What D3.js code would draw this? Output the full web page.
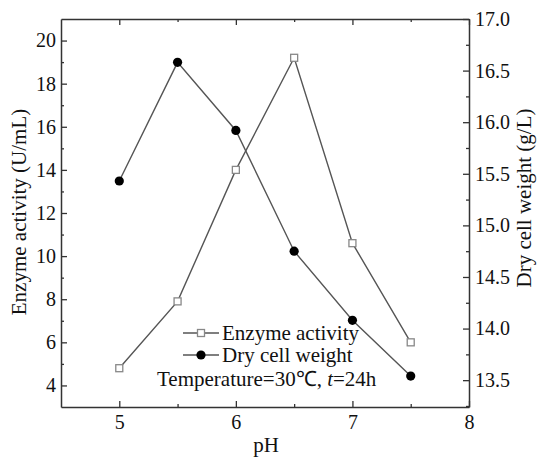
<!DOCTYPE html>
<html>
<head>
<meta charset="utf-8">
<script src="https://cdn.jsdelivr.net/npm/d3@7/dist/d3.min.js"></script>
</head>
<body style="margin:0;padding:0;background:#fff">
<svg id="chart" width="538" height="458" style="display:block"></svg>
<script>
const pH = [5, 5.5, 6, 6.5, 7, 7.5];
const enzymeActivity = [4.8, 7.9, 14.0, 19.2, 10.6, 6.0];
const dryCellWeight = [15.43, 16.58, 15.92, 14.75, 14.08, 13.54];
const xTicks = [5, 6, 7, 8];
const xMinor = [5.5, 6.5, 7.5];
const leftTicks = [4, 6, 8, 10, 12, 14, 16, 18, 20];
const leftMinor = [5, 7, 9, 11, 13, 15, 17, 19];
const rightTicks = [13.5, 14.0, 14.5, 15.0, 15.5, 16.0, 16.5, 17.0];
const rightMinor = [13.25, 13.75, 14.25, 14.75, 15.25, 15.75, 16.25, 16.75];

const L = 61, R = 469, T = 19, B = 407;
const TICKSTYLE = "font-family:'Liberation Serif';font-size:20px";
const LABELSTYLE = "font-family:'Liberation Serif';font-size:21px";

const svg = d3.select("#chart");

const x = d3.scaleLinear().domain([4.5, 8]).range([L, R]);
const yL = d3.scaleLinear().domain([3, 21]).range([B, T]);
const yR = d3.scaleLinear().domain([13.24, 17]).range([B, T]);

const axisColor = "#333";
const major = 6, minor = 3;

function styleAxis(g) {
  g.selectAll("path.domain").attr("stroke", axisColor).attr("stroke-width", 1.5);
  g.selectAll(".tick line").attr("stroke", axisColor).attr("stroke-width", 1.3);
  g.selectAll(".tick text").attr("fill", "#111").attr("style", TICKSTYLE);
}
function minorAxis(g) {
  g.select(".domain").remove();
  g.selectAll("line").attr("stroke", axisColor).attr("stroke-width", 1.3);
}

// bottom axis
svg.append("g").attr("transform", `translate(0,${B})`)
  .call(d3.axisBottom(x).tickValues(xTicks).tickSize(-major).tickPadding(8).tickSizeOuter(0).tickFormat(d3.format("d")))
  .call(styleAxis);
svg.append("g").attr("transform", `translate(0,${B})`)
  .call(d3.axisBottom(x).tickValues(xMinor).tickSize(-minor).tickFormat("").tickSizeOuter(0)).call(minorAxis);

// top axis
svg.append("g").attr("transform", `translate(0,${T})`)
  .call(d3.axisTop(x).tickValues(xTicks).tickSize(-major).tickFormat("").tickSizeOuter(0))
  .call(styleAxis);
svg.append("g").attr("transform", `translate(0,${T})`)
  .call(d3.axisTop(x).tickValues(xMinor).tickSize(-minor).tickFormat("").tickSizeOuter(0)).call(minorAxis);

// left axis
svg.append("g").attr("transform", `translate(${L},0)`)
  .call(d3.axisLeft(yL).tickValues(leftTicks).tickSize(-major).tickPadding(5).tickSizeOuter(0).tickFormat(d3.format("d")))
  .call(styleAxis);
svg.append("g").attr("transform", `translate(${L},0)`)
  .call(d3.axisLeft(yL).tickValues(leftMinor).tickSize(-minor).tickFormat("").tickSizeOuter(0)).call(minorAxis);

// right axis
svg.append("g").attr("transform", `translate(${R},0)`)
  .call(d3.axisRight(yR).tickValues(rightTicks).tickSize(-major).tickPadding(6).tickSizeOuter(0).tickFormat(d3.format(".1f")))
  .call(styleAxis);
svg.append("g").attr("transform", `translate(${R},0)`)
  .call(d3.axisRight(yR).tickValues(rightMinor).tickSize(-minor).tickFormat("").tickSizeOuter(0)).call(minorAxis);

function txt(sel) { return sel.attr("fill", "#111").attr("style", LABELSTYLE); }

// axis titles
txt(svg.append("text").attr("x", (L + R) / 2 + 1).attr("y", 452).attr("text-anchor", "middle")).text("pH");
txt(svg.append("text").attr("transform", "translate(26,212) rotate(-90)").attr("text-anchor", "middle"))
  .text("Enzyme activity (U/mL)");
txt(svg.append("text").attr("transform", "translate(531,198) rotate(-90)").attr("text-anchor", "middle"))
  .text("Dry cell weight (g/L)");

// series
const lineColor = "#555";
const enzData = pH.map((p, i) => [p, enzymeActivity[i]]);
const dcwData = pH.map((p, i) => [p, dryCellWeight[i]]);

svg.append("path").datum(enzData)
  .attr("d", d3.line().x(d => x(d[0])).y(d => yL(d[1])))
  .attr("fill", "none").attr("stroke", lineColor).attr("stroke-width", 1.4);
svg.append("path").datum(dcwData)
  .attr("d", d3.line().x(d => x(d[0])).y(d => yR(d[1])))
  .attr("fill", "none").attr("stroke", lineColor).attr("stroke-width", 1.4);

const sq = 7;
svg.selectAll("rect.enz").data(enzData).enter().append("rect")
  .attr("x", d => x(d[0]) - sq / 2).attr("y", d => yL(d[1]) - sq / 2)
  .attr("width", sq).attr("height", sq)
  .attr("fill", "#fff").attr("stroke", "#888").attr("stroke-width", 1.3);
svg.selectAll("circle.dcw").data(dcwData).enter().append("circle")
  .attr("cx", d => x(d[0])).attr("cy", d => yR(d[1])).attr("r", 4.6)
  .attr("fill", "#000");

// legend
const lg = svg.append("g");
const rows = [{ label: "Enzyme activity", type: "square", y: 333 }, { label: "Dry cell weight", type: "circle", y: 355 }];
rows.forEach(r => {
  lg.append("line").attr("x1", 183).attr("x2", 219).attr("y1", r.y).attr("y2", r.y)
    .attr("stroke", lineColor).attr("stroke-width", 1.4);
  if (r.type === "square") {
    lg.append("rect").attr("x", 201 - 3.5).attr("y", r.y - 3.5).attr("width", 7).attr("height", 7)
      .attr("fill", "#fff").attr("stroke", "#888").attr("stroke-width", 1.3);
  } else {
    lg.append("circle").attr("cx", 201).attr("cy", r.y).attr("r", 4.6).attr("fill", "#000");
  }
  txt(lg.append("text").attr("x", 222).attr("y", r.y + 7)).text(r.label);
});
const tt = txt(svg.append("text").attr("x", 157).attr("y", 386));
tt.append("tspan").text("Temperature=30℃, ");
tt.append("tspan").attr("font-style", "italic").text("t");
tt.append("tspan").text("=24h");
</script>
</body>
</html>
